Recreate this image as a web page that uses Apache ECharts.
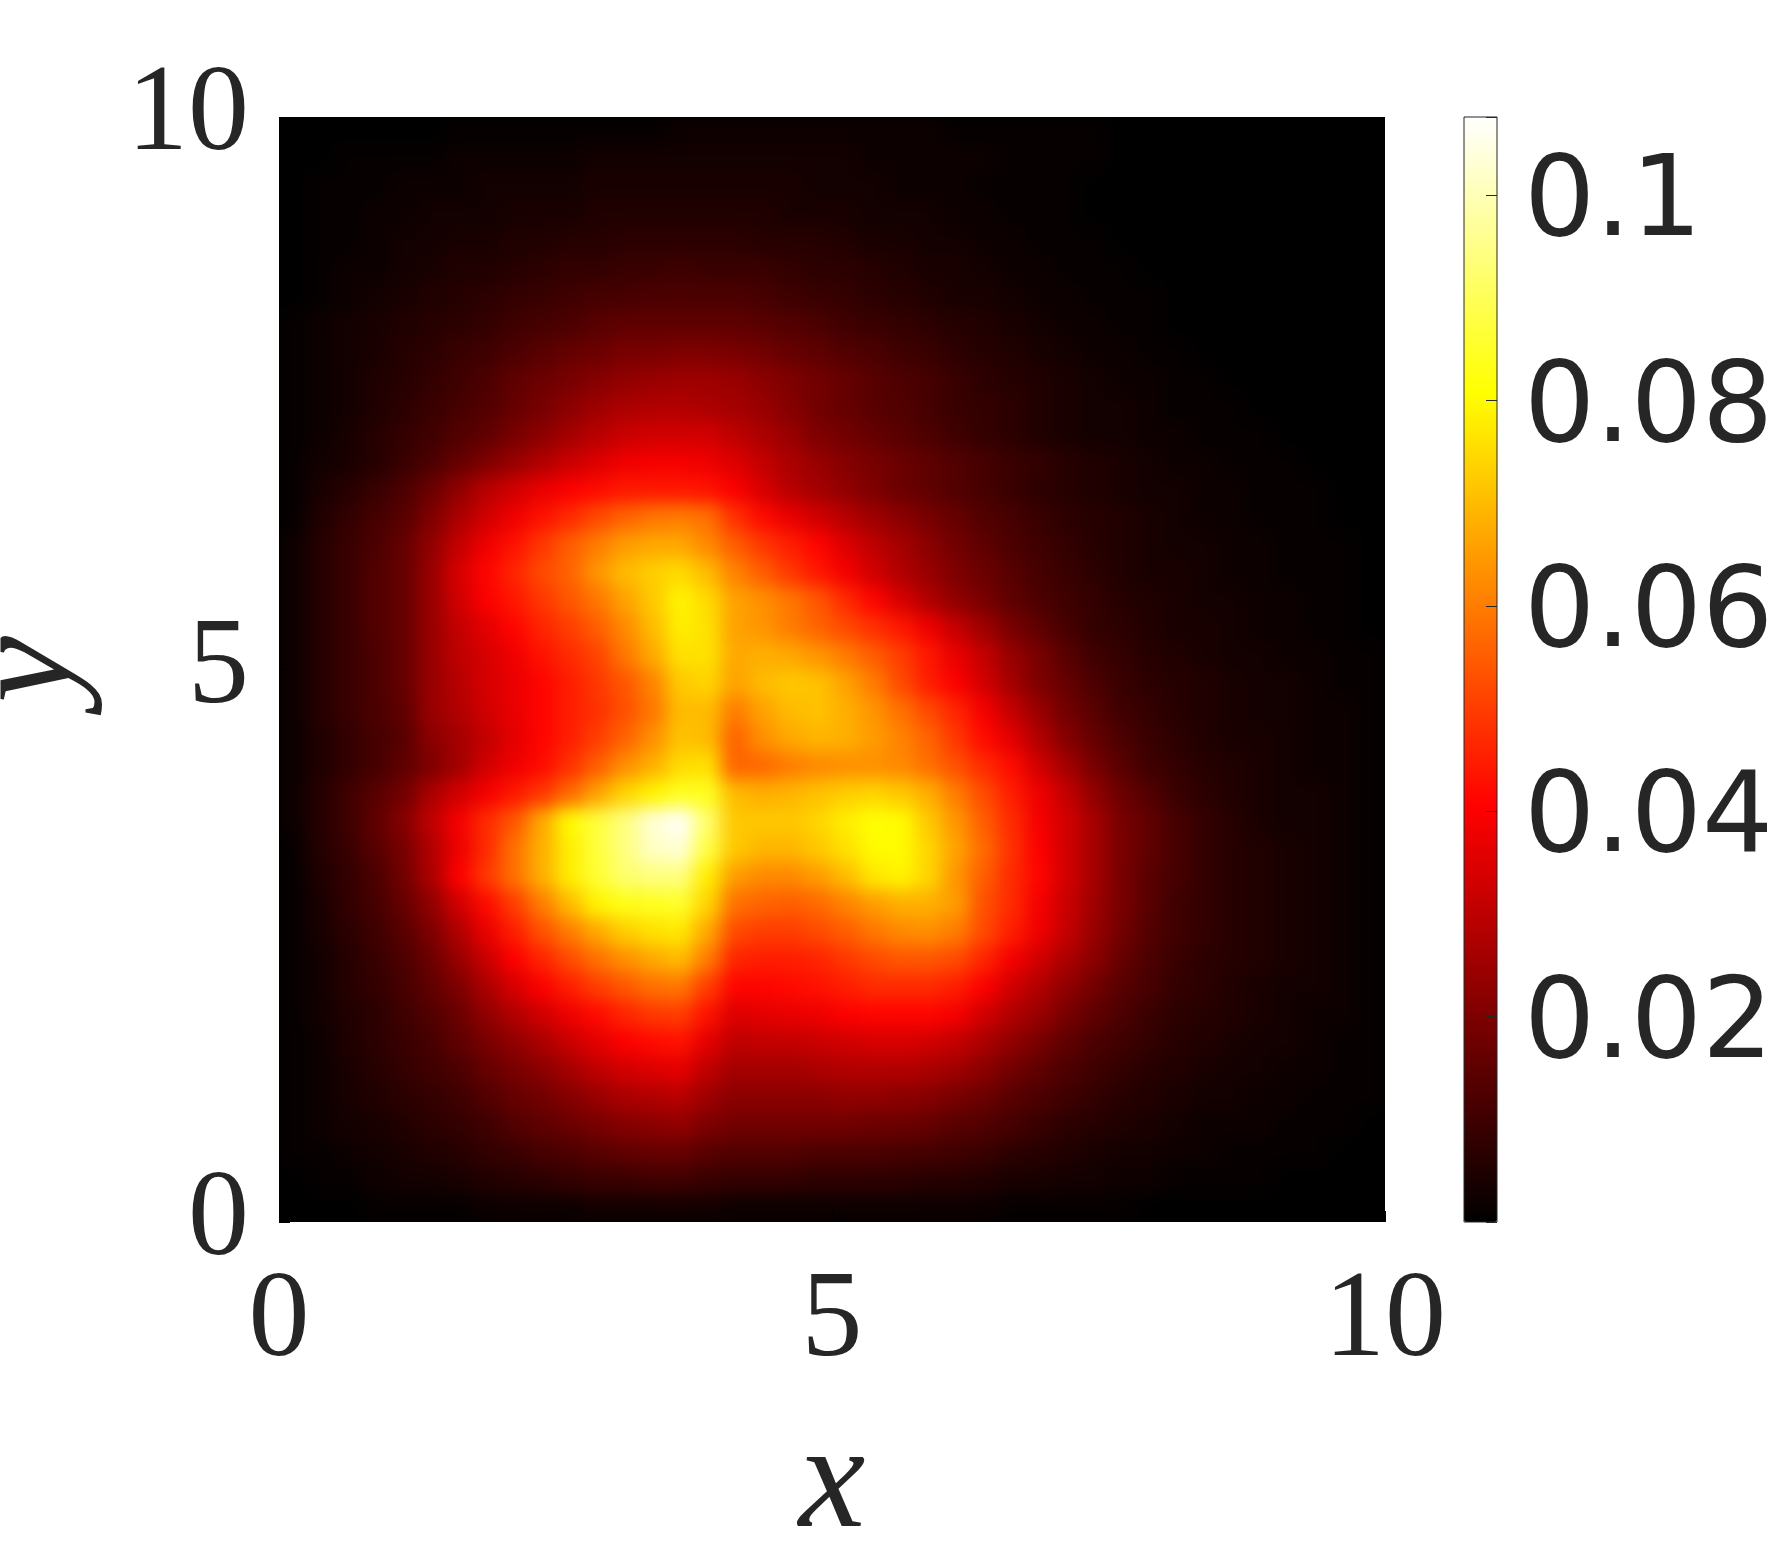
<!DOCTYPE html>
<html>
<head>
<meta charset="utf-8">
<title>heat map</title>
<script src="https://cdn.jsdelivr.net/npm/echarts@6/dist/echarts.min.js"></script>
<style>
  body { margin: 0; background: #fff; }
  #main { position: absolute; left: 0; top: 0; width: 1781px; height: 1568px; }
  /* plot area: the cells are softened so the 40x40 grid does not look blocky */
  #heatbox { position: absolute; left: 279px; top: 117px; width: 1106px; height: 1105px; overflow: hidden; background: #000; }
  #heat { width: 1106px; height: 1105px; filter: blur(9px); }
</style>
</head>
<body>
<div id="heatbox"><div id="heat"></div></div>
<div id="main"></div>
<script>
// cell centres, 0.25 apart
const xCats = [0.125,0.375,0.625,0.875,1.125,1.375,1.625,1.875,2.125,2.375,2.625,2.875,3.125,3.375,3.625,3.875,4.125,4.375,4.625,4.875,5.125,5.375,5.625,5.875,6.125,6.375,6.625,6.875,7.125,7.375,7.625,7.875,8.125,8.375,8.625,8.875,9.125,9.375,9.625,9.875];
const yCats = xCats.slice();

// values, in thousandths, top row first
const heatRows = [
  [0,0,0,0,0,0,1,1,1,1, 1,1,1,1,2,2,2,2,2,2, 2,2,2,2,1,1,1,1,1,1, 0,0,0,0,0,0,0,0,0,0],
  [0,0,1,1,1,1,2,2,2,2, 2,3,3,3,3,3,3,3,3,3, 3,2,2,2,2,2,1,1,1,1, 0,0,0,0,0,0,0,0,0,0],
  [0,1,1,1,2,2,2,3,3,3, 3,4,4,4,4,4,4,4,4,3, 3,3,2,2,2,1,1,1,1,0, 0,0,0,0,0,0,0,0,0,0],
  [0,1,1,2,2,3,3,3,4,4, 4,5,5,5,5,5,5,5,4,4, 4,3,3,3,2,2,1,1,1,0, 0,0,0,0,0,0,0,0,0,0],
  [0,1,1,2,3,3,4,4,5,5, 6,6,7,7,7,7,7,6,6,6, 5,4,4,3,3,2,2,1,1,1, 0,0,0,0,0,0,0,0,0,0],
  [0,1,2,2,3,4,5,5,6,7, 8,8,9,9,10,9,9,9,8,7, 7,6,5,4,4,3,2,2,1,1, 1,0,0,0,0,0,0,0,0,0],
  [0,1,2,3,4,5,6,7,8,9, 10,11,11,12,12,12,12,11,10,9, 8,7,6,5,4,4,3,2,2,1, 1,1,0,0,0,0,0,0,0,0],
  [1,2,3,4,5,6,7,8,10,11, 12,14,15,15,15,15,15,14,13,12, 10,9,8,7,6,5,4,3,2,2, 1,1,0,0,0,0,0,0,0,0],
  [1,2,3,4,6,7,9,10,12,14, 16,17,19,19,20,20,19,18,16,15, 13,12,10,9,7,6,5,4,3,2, 2,1,1,0,0,0,0,0,0,0],
  [1,2,3,5,6,8,10,12,15,17, 19,21,23,24,25,25,24,22,20,18, 16,14,12,11,9,7,6,5,4,3, 2,2,1,1,0,0,0,0,0,0],
  [1,2,3,5,7,9,11,13,16,19, 22,25,27,28,28,27,26,24,21,18, 16,14,13,11,9,8,7,5,4,3, 3,2,1,1,1,0,0,0,0,0],
  [1,2,4,6,8,10,13,15,19,22, 26,29,32,33,33,33,30,27,24,20, 18,16,14,12,10,8,7,5,4,3, 3,2,2,1,1,1,0,0,0,0],
  [1,3,4,6,9,12,16,20,24,28, 32,35,38,39,39,38,35,31,27,24, 21,19,17,15,13,11,9,8,6,5, 4,3,2,2,1,1,1,0,0,0],
  [1,4,6,9,12,17,23,29,33,37, 40,42,44,44,44,43,40,34,29,26, 23,20,17,15,13,11,9,7,6,5, 4,3,3,2,2,1,1,1,0,0],
  [1,5,8,11,14,20,27,33,38,43, 47,52,56,59,60,58,48,42,37,33, 29,25,22,19,16,13,11,9,7,6, 5,4,3,2,2,1,1,1,0,0],
  [2,6,9,12,16,23,31,38,43,49, 55,60,65,67,67,62,55,49,45,41, 35,30,26,22,18,15,12,10,8,6, 5,4,3,3,2,2,1,1,1,0],
  [2,6,9,13,16,24,34,41,46,52, 56,64,70,73,75,70,61,55,49,44, 39,33,28,24,20,17,14,11,9,7, 5,4,4,3,2,2,1,1,1,0],
  [2,6,9,13,16,24,33,40,44,49, 54,59,66,72,79,75,66,63,59,54, 47,41,34,28,23,19,15,12,10,8, 6,5,4,3,3,2,2,1,1,0],
  [2,6,9,13,16,24,31,36,41,46, 50,55,62,70,78,76,66,64,60,56, 52,48,44,38,31,25,19,15,11,8, 7,5,4,4,3,2,2,1,1,0],
  [2,6,9,12,16,24,30,34,38,43, 47,51,59,67,76,76,67,68,67,64, 60,55,50,44,37,31,24,19,14,10, 8,6,5,4,3,3,2,2,1,1],
  [2,6,9,12,16,24,29,34,37,41, 45,49,54,61,72,74,66,70,72,71, 66,60,52,45,40,33,26,20,16,12, 9,7,6,5,4,3,3,2,1,1],
  [2,6,9,12,15,24,28,33,37,41, 45,48,53,59,70,70,60,66,70,71, 68,64,58,52,46,39,31,24,18,14, 10,8,6,5,4,3,3,2,2,1],
  [2,5,8,11,14,22,26,31,36,41, 45,50,56,63,71,70,56,63,67,69, 68,65,61,56,49,42,36,28,21,16, 12,9,7,5,4,4,3,2,2,1],
  [2,5,8,11,15,20,26,33,38,42, 48,55,63,68,75,76,56,57,60,62, 63,63,62,58,53,47,42,33,26,19, 14,10,8,6,5,4,3,2,2,1],
  [2,6,10,14,18,27,33,39,44,49, 57,66,74,79,84,84,70,68,69,71, 73,74,72,68,60,52,45,38,31,23, 17,13,9,7,5,4,3,3,2,1],
  [2,6,10,15,21,30,39,47,54,67, 80,87,94,103,107,92,72,72,72,74, 78,81,80,72,64,55,47,39,33,26, 19,15,11,8,6,4,3,3,2,1],
  [1,6,9,14,19,28,38,47,58,68, 78,87,94,101,103,88,72,69,69,72, 76,80,80,74,66,57,48,40,33,26, 19,15,11,8,6,5,4,3,2,1],
  [1,5,8,12,18,27,40,49,58,68, 78,86,92,94,94,78,65,62,62,65, 70,77,79,74,64,55,47,41,33,26, 19,14,11,8,6,5,4,3,2,1],
  [1,4,8,11,16,23,33,42,50,60, 70,79,83,84,85,74,58,56,55,57, 61,65,68,68,65,53,47,39,32,25, 19,14,10,8,6,5,4,3,2,1],
  [1,4,7,10,14,20,28,37,45,53, 60,67,73,76,77,67,52,50,50,52, 55,59,62,63,60,52,45,38,31,24, 18,13,10,8,6,5,4,3,2,1],
  [1,3,6,9,12,17,24,32,40,46, 52,58,63,67,70,60,46,45,45,46, 49,52,54,54,52,46,39,33,27,22, 16,12,9,7,6,5,4,3,2,1],
  [1,3,6,8,11,15,20,27,34,40, 45,50,54,58,59,50,41,41,42,43, 45,47,47,47,45,40,33,28,23,18, 14,11,8,7,5,4,3,3,2,1],
  [1,3,5,7,10,13,17,23,28,33, 38,42,46,49,50,43,35,36,37,38, 40,41,41,41,39,33,28,24,19,15, 12,9,7,6,5,4,3,2,2,1],
  [1,2,5,7,9,11,15,19,23,27, 32,36,40,42,43,36,30,31,31,32, 33,34,34,33,31,27,23,19,15,12, 10,8,6,5,4,3,3,2,1,1],
  [1,2,4,6,8,10,12,16,19,22, 26,30,33,35,36,30,26,26,26,27, 28,28,28,27,25,22,18,15,12,10, 8,6,5,4,3,3,2,2,1,1],
  [1,2,4,5,7,8,10,13,16,18, 21,24,27,28,29,25,22,22,22,22, 23,23,22,21,19,17,14,12,10,8, 6,5,4,3,3,2,2,1,1,1],
  [1,2,3,4,5,7,8,10,13,15, 17,19,21,22,23,20,18,18,18,18, 18,17,17,16,14,13,11,9,7,6, 5,4,3,2,2,2,1,1,1,0],
  [1,1,2,3,4,5,6,8,9,11, 12,14,15,16,16,14,13,13,13,12, 12,12,11,11,10,9,7,6,5,4, 3,3,2,2,1,1,1,1,0,0],
  [0,1,1,2,3,3,4,5,6,7, 8,9,9,10,10,9,8,8,8,7, 7,7,7,6,6,5,4,4,3,3, 2,2,1,1,1,1,0,0,0,0],
  [0,0,0,1,1,1,1,2,2,2, 2,3,3,3,3,3,2,2,2,2, 2,2,2,2,2,2,1,1,1,1, 1,0,0,0,0,0,0,0,0,0]
];

const scaleMax = 107.6;
// matlab "hot", one stop every eighth of the range
const hotColors = ['#000000','#550000','#aa0000','#ff0000','#ff5500','#ffaa00','#ffff00','#ffff80','#ffffff'];

const seriesData = [];
heatRows.forEach((row, r) => {
  row.forEach((v, c) => {
    seriesData.push([c, heatRows.length - 1 - r, v]);
  });
});

const heatChart = echarts.init(document.getElementById('heat'));
heatChart.setOption({
  animation: false,
  grid: { left: 0, right: 0, top: 0, bottom: 0 },
  xAxis: { type: 'category', data: xCats, show: false },
  yAxis: { type: 'category', data: yCats, show: false },
  visualMap: { show: false, min: 0, max: scaleMax, inRange: { color: hotColors } },
  series: [{ type: 'heatmap', data: seriesData, progressive: 0 }]
});

const ink = '#262626';
const serif = 'Liberation Serif';

const mainChart = echarts.init(document.getElementById('main'));
mainChart.setOption({
  animation: false,
  grid: [
    { left: 279, top: 117, width: 1106, height: 1105, outerBoundsMode: 'none' },
    { left: 1464, top: 117, width: 33, height: 1105, outerBoundsMode: 'none', show: true, z: 10, borderColor: ink, borderWidth: 1, backgroundColor: 'transparent' }
  ],
  xAxis: [
    {
      type: 'value', gridIndex: 0, min: 0, max: 10, interval: 5,
      splitLine: { show: false }, axisLine: { show: false },
      axisTick: { inside: true, length: 11, lineStyle: { color: '#000', width: 1 } },
      axisLabel: { margin: 40, fontFamily: serif, fontSize: 122, color: ink },
      name: 'x', nameLocation: 'middle', nameGap: 190,
      nameTextStyle: { fontFamily: serif, fontStyle: 'italic', fontSize: 150, color: ink }
    },
    { type: 'value', gridIndex: 1, min: 0, max: 1, show: false }
  ],
  yAxis: [
    {
      type: 'value', gridIndex: 0, min: 0, max: 10, interval: 5,
      splitLine: { show: false }, axisLine: { show: false },
      axisTick: { inside: true, length: 11, lineStyle: { color: '#000', width: 1 } },
      axisLabel: { margin: 30, fontFamily: serif, fontSize: 122, color: ink, padding: [0, 0, 18, 0] },
      name: 'y', nameLocation: 'middle', nameGap: 173,
      nameTextStyle: { fontFamily: serif, fontStyle: 'italic', fontSize: 150, color: ink }
    },
    {
      type: 'value', gridIndex: 1, position: 'right', min: 0, max: 0.1076, interval: 0.02, z: 10,
      splitLine: { show: false }, axisLine: { show: false, onZero: false },
      axisTick: { inside: true, length: 11, lineStyle: { color: ink, width: 1 } },
      axisLabel: {
        margin: 27,
        // rich text so the top padding can push the digits down onto the tick
        rich: { t: { fontFamily: 'DejaVu Sans', fontSize: 112, color: ink, padding: [22, 0, 0, 0] } },
        formatter: (v) => (v === 0 || v > 0.105 ? '' : '{t|' + v + '}')
      }
    }
  ],
  visualMap: {
    type: 'continuous', min: 0, max: scaleMax, calculable: false, hoverLink: false,
    left: 1464, top: 117, itemWidth: 33, itemHeight: 1105, padding: 0, text: null,
    showLabel: false, inRange: { color: hotColors }, seriesIndex: []
  },
  series: []
});
</script>
</body>
</html>
